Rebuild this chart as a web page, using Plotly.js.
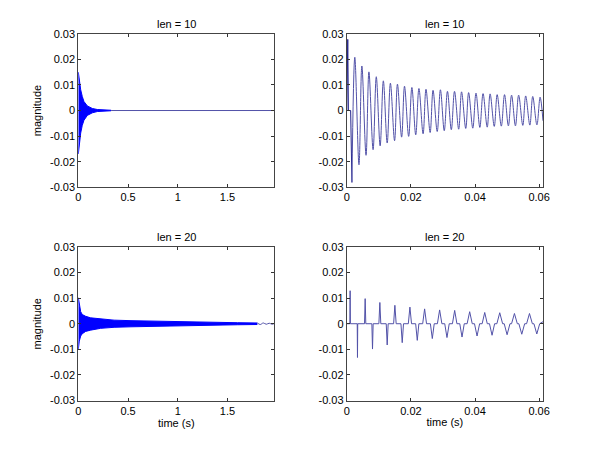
<!DOCTYPE html>
<html>
<head>
<meta charset="utf-8">
<script src="https://cdn.plot.ly/plotly-3.0.1.min.js"></script>
<style>
  html, body { margin: 0; padding: 0; background: #ffffff; }
  #plot { width: 600px; height: 450px; }
</style>
</head>
<body>
<div id="plot"></div>
<script>
// ---- len = 10, full length: envelope of the decaying burst (s, magnitude)
const env10T  = [0, 0.008, 0.024, 0.040, 0.057, 0.091, 0.141, 0.191, 0.258, 0.33];
const env10Up = [0.0150, 0.0125, 0.0081, 0.0055, 0.0035, 0.0018, 0.0008, 0.0004, 0.0002, 0.0001];
const env10Lo = [-0.0170, -0.0135, -0.0088, -0.0058, -0.0038, -0.0019, -0.0009, -0.0004, -0.0002, -0.0001];
const tail10T = [0.33, 1.97];
const tail10V = [0, 0];

// ---- len = 20, full length: envelope
const env20T  = [0, 0.010, 0.024, 0.040, 0.074, 0.124, 0.225, 0.36, 0.53, 0.73, 1.06, 1.35, 1.6, 1.8];
const env20Up = [0.0102, 0.0069, 0.0047, 0.0036, 0.0029, 0.0023, 0.0018, 0.0014, 0.0012, 0.0010, 0.0008, 0.0006, 0.0004, 0.0003];
const env20Lo = [-0.0100, -0.0068, -0.0048, -0.0039, -0.0030, -0.0025, -0.0018, -0.0014, -0.0012, -0.0010, -0.0008, -0.0006, -0.0004, -0.0003];
const tail20T = [1.80, 1.83, 1.86, 1.89, 1.92, 1.95, 1.97];
const tail20V = [0.0003, -0.0003, 0.0003, -0.0002, 0.0002, -0.0002, 0.0001];

// ---- len = 10, first 60 ms: onset, then peaks and troughs of each cycle
const onset10T = [0, 0.0003, 0.0005, 0.0012, 0.0016];
const onset10V = [0, 0.0278, 0, 0, -0.0281];
const peak10T = [0.0025, 0.0047, 0.0069, 0.0092, 0.0114, 0.0136, 0.0158, 0.0180, 0.0203, 0.0225,
                 0.0247, 0.0269, 0.0292, 0.0314, 0.0336, 0.0358, 0.0380, 0.0403, 0.0425, 0.0447,
                 0.0469, 0.0492, 0.0514, 0.0536, 0.0558, 0.0580, 0.0603];
const peak10V = [0.0208, 0.0174, 0.0151, 0.0132, 0.0116, 0.0107, 0.0103, 0.0095, 0.0090, 0.0086,
                 0.0083, 0.0079, 0.0081, 0.0075, 0.0075, 0.0073, 0.0070, 0.0068, 0.0066, 0.0065,
                 0.0062, 0.0062, 0.0060, 0.0060, 0.0057, 0.0055, 0.0052];
const trough10T = [0.0016, 0.0038, 0.0060, 0.0082, 0.0104, 0.0126, 0.0149, 0.0171, 0.0193, 0.0215,
                   0.0238, 0.0260, 0.0282, 0.0304, 0.0326, 0.0349, 0.0371, 0.0393, 0.0415, 0.0438,
                   0.0460, 0.0482, 0.0504, 0.0526, 0.0549, 0.0571, 0.0593, 0.0612];
const trough10V = [-0.0281, -0.0212, -0.0175, -0.0153, -0.0138, -0.0127, -0.0118, -0.0104, -0.0101, -0.0095,
                   -0.0091, -0.0086, -0.0082, -0.0079, -0.0075, -0.0073, -0.0070, -0.0069, -0.0066, -0.0065,
                   -0.0062, -0.0061, -0.0060, -0.0060, -0.0058, -0.0057, -0.0056, -0.0040];

// ---- len = 20, first 60 ms: positive and negative pulses
const up20T = [0.00104, 0.00573, 0.01031, 0.0150, 0.01969, 0.02427, 0.02896, 0.03365, 0.03833, 0.04302, 0.04771, 0.05229, 0.05698];
const up20V = [0.0129, 0.0098, 0.0083, 0.0072, 0.0065, 0.0058, 0.0054, 0.0052, 0.0047, 0.0044, 0.0043, 0.0040, 0.0040];
const down20T = [0.00333, 0.00802, 0.0126, 0.01729, 0.02198, 0.02667, 0.03125, 0.03594, 0.04063, 0.04531, 0.05, 0.05458, 0.05927];
const down20V = [-0.0132, -0.0099, -0.0083, -0.0074, -0.0065, -0.0058, -0.0054, -0.0052, -0.0048, -0.0045, -0.0043, -0.0041, -0.0040];
const pulse20W = [0.00008, 0.0002, 0.0003, 0.0004, 0.0005, 0.0006, 0.0007, 0.0007, 0.0008, 0.0008, 0.0009, 0.0009, 0.0009];
const end20T = [0, 0.0612];
const end20V = [0, 0.0008];

// ---- tick labels
const yTickVals = [-0.03, -0.02, -0.01, 0, 0.01, 0.02, 0.03];
const yTickText = ['-0.03', '-0.02', '-0.01', '0', '0.01', '0.02', '0.03'];
const xLongVals = [0, 0.5, 1, 1.5];
const xLongText = ['0', '0.5', '1', '1.5'];
const xShortVals = [0, 0.02, 0.04, 0.06];
const xShortText = ['0', '0.02', '0.04', '0.06'];

const FILL = '#0000ff';
const THIN = '#5252a8';

// merge alternating extremes into one time-ordered polyline
function mergeSorted(aT, aV, bT, bV) {
  const pts = [];
  aT.forEach((t, i) => pts.push([t, aV[i]]));
  bT.forEach((t, i) => pts.push([t, bV[i]]));
  pts.sort((p, q) => p[0] - q[0]);
  return { x: pts.map(p => p[0]), y: pts.map(p => p[1]) };
}

// pulse train: each pulse rises from zero to its value and back
function pulses() {
  const pts = [[end20T[0], end20V[0]]];
  const list = [];
  up20T.forEach((t, i) => list.push([t, up20V[i], pulse20W[i]]));
  down20T.forEach((t, i) => list.push([t, down20V[i], pulse20W[i]]));
  list.sort((p, q) => p[0] - q[0]);
  list.forEach(([t, v, w]) => { pts.push([t - w, 0], [t, v], [t + w, 0]); });
  pts.push([end20T[1], end20V[1]]);
  return { x: pts.map(p => p[0]), y: pts.map(p => p[1]) };
}

const wave10 = mergeSorted(peak10T, peak10V, trough10T, trough10V);
const wave20 = pulses();

const traces = [
  // top left
  { x: env10T, y: env10Lo, xaxis: 'x', yaxis: 'y', mode: 'lines', line: { color: FILL, width: 1 }, hoverinfo: 'skip' },
  { x: env10T, y: env10Up, xaxis: 'x', yaxis: 'y', mode: 'lines', fill: 'tonexty', fillcolor: FILL, line: { color: FILL, width: 1 }, hoverinfo: 'skip' },
  { x: tail10T, y: tail10V, xaxis: 'x', yaxis: 'y', mode: 'lines', line: { color: THIN, width: 1 } },
  // top right
  { x: onset10T, y: onset10V, xaxis: 'x2', yaxis: 'y2', mode: 'lines', line: { color: '#20208a', width: 1 } },
  { x: wave10.x, y: wave10.y, xaxis: 'x2', yaxis: 'y2', mode: 'lines', line: { color: THIN, width: 1, shape: 'spline', smoothing: 1 } },
  // bottom left
  { x: env20T, y: env20Lo, xaxis: 'x3', yaxis: 'y3', mode: 'lines', line: { color: FILL, width: 1 }, hoverinfo: 'skip' },
  { x: env20T, y: env20Up, xaxis: 'x3', yaxis: 'y3', mode: 'lines', fill: 'tonexty', fillcolor: FILL, line: { color: FILL, width: 1 }, hoverinfo: 'skip' },
  { x: tail20T, y: tail20V, xaxis: 'x3', yaxis: 'y3', mode: 'lines', line: { color: THIN, width: 1, shape: 'spline' } },
  // bottom right
  { x: wave20.x, y: wave20.y, xaxis: 'x4', yaxis: 'y4', mode: 'lines', line: { color: THIN, width: 1 } }
];

const FONT = { family: '"Liberation Sans", Arial, sans-serif', size: 11, color: '#000000' };

function xAxis(domain, range, vals, text, anchor, title) {
  return {
    domain: domain, range: range, anchor: anchor,
    tickmode: 'array', tickvals: vals, ticktext: text,
    ticks: 'inside', ticklen: 3, tickcolor: '#333', mirror: 'ticks',
    showline: true, linecolor: '#444', linewidth: 1,
    showgrid: false, zeroline: false, tickfont: FONT,
    title: title ? { text: title, font: FONT, standoff: 2 } : undefined
  };
}
function yAxis(domain, anchor, title) {
  return {
    domain: domain, range: [-0.03, 0.03], anchor: anchor,
    tickmode: 'array', tickvals: yTickVals, ticktext: yTickText,
    ticks: 'inside', ticklen: 3, tickcolor: '#333', mirror: 'ticks',
    showline: true, linecolor: '#444', linewidth: 1,
    showgrid: false, zeroline: false, tickfont: FONT,
    title: title ? { text: title, font: FONT, standoff: 6 } : undefined
  };
}

const colL = [0.1305, 0.457];
const colR = [0.578, 0.905];
const rowT = [0.5838, 0.925];
const rowB = [0.11, 0.4512];

const layout = {
  width: 600, height: 450,
  margin: { l: 0, r: 0, t: 0, b: 0 },
  paper_bgcolor: '#ffffff', plot_bgcolor: '#ffffff',
  showlegend: false,
  font: FONT,
  xaxis:  xAxis(colL, [0, 1.97],   xLongVals,  xLongText,  'y'),
  yaxis:  yAxis(rowT, 'x', 'magnitude'),
  xaxis2: xAxis(colR, [0, 0.0612], xShortVals, xShortText, 'y2'),
  yaxis2: yAxis(rowT, 'x2'),
  xaxis3: xAxis(colL, [0, 1.97],   xLongVals,  xLongText,  'y3', 'time (s)'),
  yaxis3: yAxis(rowB, 'x3', 'magnitude'),
  xaxis4: xAxis(colR, [0, 0.0612], xShortVals, xShortText, 'y4', 'time (s)'),
  yaxis4: yAxis(rowB, 'x4'),
  annotations: [
    { text: 'len = 10', x: (colL[0] + colL[1]) / 2, y: rowT[1], xref: 'paper', yref: 'paper', xanchor: 'center', yanchor: 'bottom', yshift: 2, showarrow: false, font: FONT },
    { text: 'len = 10', x: (colR[0] + colR[1]) / 2, y: rowT[1], xref: 'paper', yref: 'paper', xanchor: 'center', yanchor: 'bottom', yshift: 2, showarrow: false, font: FONT },
    { text: 'len = 20', x: (colL[0] + colL[1]) / 2, y: rowB[1], xref: 'paper', yref: 'paper', xanchor: 'center', yanchor: 'bottom', yshift: 2, showarrow: false, font: FONT },
    { text: 'len = 20', x: (colR[0] + colR[1]) / 2, y: rowB[1], xref: 'paper', yref: 'paper', xanchor: 'center', yanchor: 'bottom', yshift: 2, showarrow: false, font: FONT }
  ]
};

Plotly.newPlot('plot', traces, layout, { staticPlot: true, displayModeBar: false });
</script>
</body>
</html>
